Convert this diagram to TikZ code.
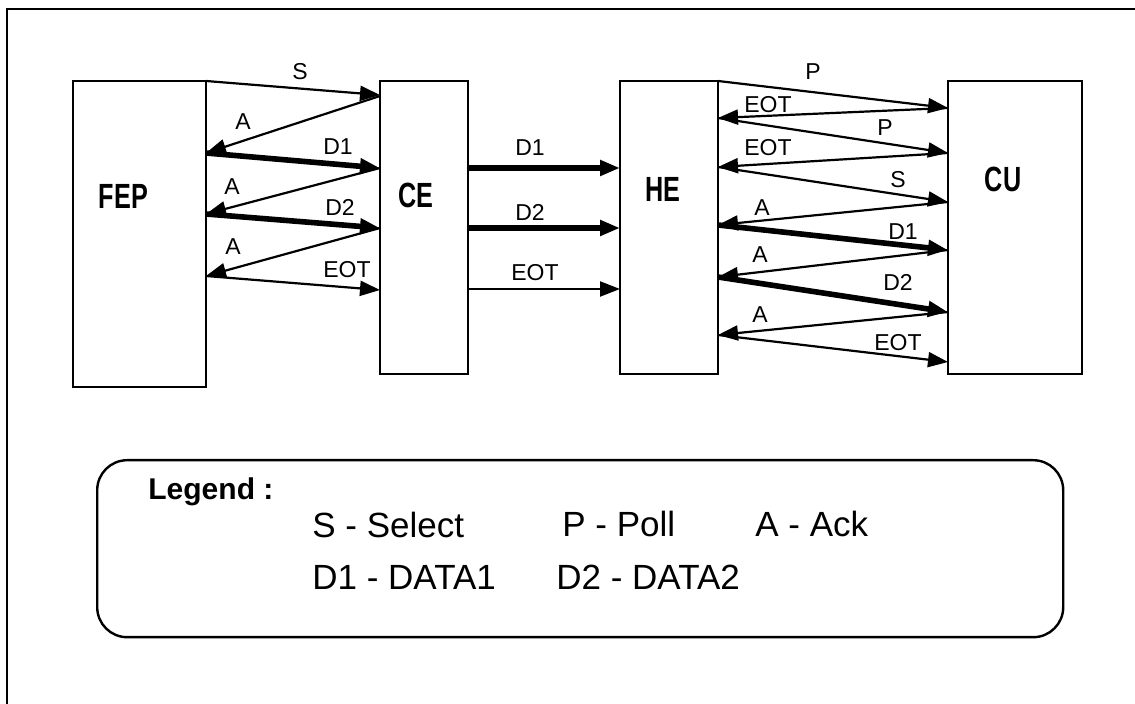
\documentclass[tikz,border=0pt]{standalone}
\usepackage{fontspec}
\setmainfont{Liberation Sans}
\newfontfamily\boxfont[FakeStretch=0.72]{Liberation Sans}
\usepackage{tikz}
\usetikzlibrary{arrows.meta,positioning}

\begin{document}
\begin{tikzpicture}[
  x=0.5pt, y=-0.5pt,
  unit/.style={draw, line width=1.2pt, inner sep=0pt, outer sep=0pt,
               anchor=north west, minimum height=146.5pt},
  tag/.style={font=\boxfont\bfseries\fontsize{17.5}{20}\selectfont, inner sep=0pt},
  msg/.style={->, line width=1.1pt},
  data/.style={->, line width=2.8pt},
  lbl/.style={font=\fontsize{11.5}{13}\selectfont, inner sep=1pt},
  key/.style={anchor=base west, inner sep=0pt, font=\fontsize{17.5}{20}\selectfont},
  >={Triangle[length=10pt, width=7.5pt]}]
  \useasboundingbox (0,0) rectangle (1135,704);
  \draw[line width=1.2pt] (7,720) -- (7,9) -- (1150,9);

  % stations
  \node[unit, minimum width=66.5pt, minimum height=153pt] (fep) at (73,81) {};
  \node[unit, minimum width=44pt, right=87pt of fep.north east, anchor=north west] (ce) {};
  \node[unit, minimum width=49pt, right=76pt of ce.north east, anchor=north west] (he) {};
  \node[unit, minimum width=67pt, right=115pt of he.north east, anchor=north west] (cu) {};
  \node[tag, xshift=-8pt, yshift=19pt] (feptag) at (fep.center) {FEP};
  \node[tag, xshift=-4pt, yshift=16pt] (cetag) at (ce.center) {CE};
  \node[tag, xshift=-3pt, yshift=19pt] (hetag) at (he.center) {HE};
  \node[tag, xshift=-6pt, yshift=24pt] (cutag) at (cu.center) {CU};

  % FEP <-> CE
  \draw[msg] (fep.north east) -- (ce.west |- 0,95) node[lbl] (ls1) at (300,72) {S};
  \draw[msg] (ce.west |- 0,96) -- (fep.east |- 0,153) node[lbl] (la1) at (243,122) {A};
  \draw[data] (fep.east |- 0,153) -- (ce.west |- 0,168) node[lbl] (ld1) at (338,147) {D1};
  \draw[msg] (ce.west |- 0,168) -- (fep.east |- 0,214) node[lbl] (la2) at (232,187) {A};
  \draw[data] (fep.east |- 0,214) -- (ce.west |- 0,228) node[lbl] (ld2) at (340,207) {D2};
  \draw[msg] (ce.west |- 0,228) -- (fep.east |- 0,276) node[lbl] (la3) at (233,247) {A};
  \draw[msg] (fep.east |- 0,276) -- (ce.west |- 0,290) node[lbl] (le1) at (347,270) {EOT};

  % CE -> HE
  \draw[data] (ce.east |- 0,168) -- (he.west |- 0,168) node[lbl] (md1) at (530,148) {D1};
  \draw[data] (ce.east |- 0,228) -- (he.west |- 0,228) node[lbl] (md2) at (530,212) {D2};
  \draw[msg] (ce.east |- 0,289) -- (he.west |- 0,289) node[lbl] (me1) at (535,273) {EOT};

  % HE <-> CU
  \draw[msg] (he.north east) -- (cu.west |- 0,108) node[lbl] (rp1) at (813,72) {P};
  \draw[msg] (cu.west |- 0,108) -- (he.east |- 0,118) node[lbl] (re1) at (768,105) {EOT};
  \draw[msg] (he.east |- 0,118) -- (cu.west |- 0,153) node[lbl] (rp2) at (885,128) {P};
  \draw[msg] (cu.west |- 0,153) -- (he.east |- 0,167) node[lbl] (re2) at (768,148) {EOT};
  \draw[msg] (he.east |- 0,167) -- (cu.west |- 0,202) node[lbl] (rs1) at (898,180) {S};
  \draw[msg] (cu.west |- 0,202) -- (he.east |- 0,225) node[lbl] (ra1) at (762,208) {A};
  \draw[data] (he.east |- 0,225) -- (cu.west |- 0,250) node[lbl] (rd1) at (903,232) {D1};
  \draw[msg] (cu.west |- 0,250) -- (he.east |- 0,277) node[lbl] (ra2) at (760,255) {A};
  \draw[data] (he.east |- 0,277) -- (cu.west |- 0,312) node[lbl] (rd2) at (898,282) {D2};
  \draw[msg] (cu.west |- 0,312) -- (he.east |- 0,335) node[lbl] (ra3) at (760,315) {A};
  \draw[msg] (he.east |- 0,335) -- (cu.west |- 0,362) node[lbl] (re3) at (898,343) {EOT};

  % legend
  \node[draw, line width=1.2pt, rounded corners=15pt, anchor=north west, inner sep=0pt,
        minimum width=483pt, minimum height=88.5pt] (legend) at (96,459) {};
  \node[key, font=\bfseries\fontsize{15}{18}\selectfont] (legtitle) at (148,500) {Legend :};
  \node[key] (ksel) at (312,538) {S - Select};
  \node[key] (kpoll) at (562,537) {P - Poll};
  \node[key] (kack) at (755,537) {A - Ack};
  \node[key] (kd1) at (312,590) {D1 - DATA1};
  \node[key] (kd2) at (556,590) {D2 - DATA2};
\end{tikzpicture}
\end{document}
